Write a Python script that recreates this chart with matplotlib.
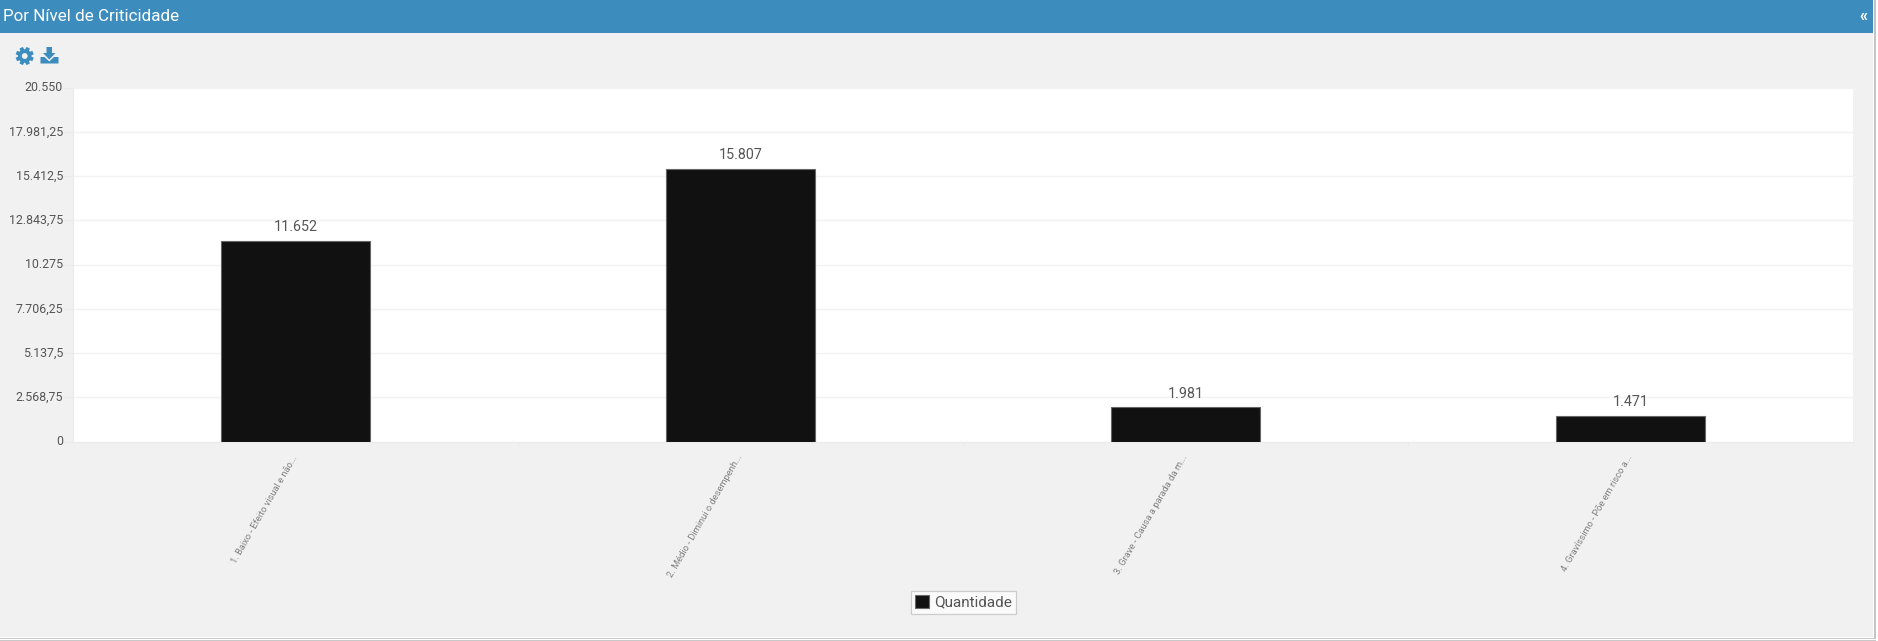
import matplotlib
matplotlib.use("Agg")
import matplotlib.pyplot as plt
import numpy as np
from matplotlib.patches import Circle, Polygon, Rectangle
from matplotlib.transforms import ScaledTranslation

plt.rcParams["font.family"] = ["Roboto", "DejaVu Sans"]

W, H = 1878, 641
PX = 72 / 100  # points per pixel at dpi 100

categories = [
    "1. Baixo - Efeito visual e não...",
    "2. Médio - Diminui o desempenh...",
    "3. Grave - Causa a parada da m...",
    "4. Gravíssimo - Põe em risco a...",
]
quantidade = [11652, 15807, 1981, 1471]
value_labels = ["11.652", "15.807", "1.981", "1.471"]
y_ticks = [0, 2568.75, 5137.5, 7706.25, 10275, 12843.75, 15412.5, 17981.25, 20550]
y_tick_labels = ["0", "2.568,75", "5.137,5", "7.706,25", "10.275", "12.843,75", "15.412,5", "17.981,25", "20.550"]

BLUE = "#3c8dbe"
BG = "#f1f1f1"
TEXT = "#555555"


def px_axes(fig, left, top, right, bottom):
    return fig.add_axes([left / W, 1 - bottom / H, (right - left) / W, (bottom - top) / H])


fig = plt.figure(figsize=(W / 100, H / 100), dpi=100, facecolor="white")

# page layer in pixel coordinates: panel, header bar, toolbar icons
bg = fig.add_axes([0, 0, 1, 1])
bg.set_xlim(0, W)
bg.set_ylim(H, 0)
bg.axis("off")
bg.add_patch(Rectangle((0, 0), 1873, 637, fc=BG, ec="none"))
bg.add_patch(Rectangle((0, 0), 1873, 33, fc=BLUE, ec="none"))
bg.add_patch(Rectangle((1874, 0), 1.5, 638, fc="#c4c4c4", ec="none"))
bg.add_patch(Rectangle((0, 637.5), 1876, 1.2, fc="#c8c8c8", ec="none"))
bg.add_patch(Rectangle((0, 640), 1876, 1, fc="#c8c8c8", ec="none"))
bg.text(3, 16.5, "Por Nível de Criticidade", color="white", fontsize=17 * PX,
        ha="left", va="center")
bg.text(1863, 16, "«", color="white", fontsize=16 * PX, fontweight="bold",
        ha="center", va="center")

# gear icon
angles = np.linspace(0, 2 * np.pi, 8, endpoint=False) + np.pi / 8
gear = []
for a in angles:
    for off, r in [(-0.30, 6.8), (-0.2, 9.2), (0.2, 9.2), (0.30, 6.8)]:
        gear.append((24.7 + r * np.cos(a + off), 56 + r * np.sin(a + off)))
bg.add_patch(Polygon(gear, closed=True, fc=BLUE, ec="none"))
bg.add_patch(Circle((24.7, 56), 2.9, fc=BG, ec="none"))

# download icon
bg.add_patch(Polygon([(46.5, 47), (52, 47), (52, 53), (55.5, 53), (49.3, 59.5), (43, 53), (46.5, 53)],
                     closed=True, fc=BLUE, ec="none"))
bg.add_patch(Polygon([(40.5, 57), (44.5, 57), (49.3, 61.5), (54, 57), (58.5, 57), (58.5, 63.5), (40.5, 63.5)],
                     closed=True, fc=BLUE, ec="none"))

# the chart itself
ax = px_axes(fig, 73, 87.5, 1853, 441.6)
ax.set_facecolor("white")
x = np.arange(len(categories))
bars = ax.bar(x, quantidade, width=0.336, color="#111111", edgecolor="#666666", linewidth=0.8,
              label="Quantidade", zorder=3)
ax.bar_label(bars, labels=value_labels, padding=5, color=TEXT, fontsize=14.3 * PX)

ax.set_xlim(-0.5, 3.5)
ax.set_ylim(0, 20550)
ax.set_yticks(y_ticks)
ax.set_yticklabels(y_tick_labels, color=TEXT, fontsize=12.4 * PX)
ax.grid(axis="y", color="#f2f2f2", linewidth=1, zorder=0)
ax.tick_params(axis="y", length=10 * PX, width=0.8, color="#ebebeb", pad=0)
# value labels on the y axis sit a little above their gridlines
for lab in ax.get_yticklabels():
    lab.set_transform(lab.get_transform() + ScaledTranslation(0, 1.2 / 100, fig.dpi_scale_trans))
ax.set_xticks(x)
ax.set_xticklabels(categories, rotation=60, ha="right", va="center", rotation_mode="anchor",
                   color="#808080", fontsize=9.4 * PX)
ax.tick_params(axis="x", length=0, pad=14 * PX)
ax.set_xticks(np.arange(0.5, 3), minor=True)
ax.tick_params(axis="x", which="minor", length=4 * PX, width=0.8, color="#ebebeb")
for side in ["top", "right"]:
    ax.spines[side].set_visible(False)
for side in ["left", "bottom"]:
    ax.spines[side].set_color("#ebebeb")
    ax.spines[side].set_linewidth(0.8)

leg = ax.legend(loc="center", bbox_to_anchor=(963.5 / W, 1 - 602.5 / H), bbox_transform=fig.transFigure,
                fontsize=15.3 * PX, labelcolor=TEXT, frameon=True, fancybox=False, framealpha=1,
                facecolor="#fafafa", edgecolor="#cccccc", handlelength=0.9, handleheight=0.9,
                handletextpad=0.3, borderpad=0.3, borderaxespad=0)
leg.get_frame().set_linewidth(0.9)

fig.savefig("out.png", dpi=100, facecolor=fig.get_facecolor())
